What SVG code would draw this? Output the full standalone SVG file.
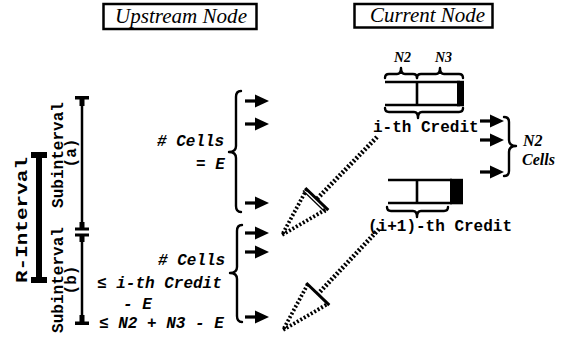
<svg xmlns="http://www.w3.org/2000/svg" xmlns:xlink="http://www.w3.org/1999/xlink" width="563" height="339" viewBox="0 0 563 339">
  <style>
    .title { font-family: "Liberation Serif", "Times New Roman", serif; font-style: italic; font-size: 22px; fill: #000; }
    .frame { fill: none; stroke: #000; stroke-width: 2.5; }
    .mono { font-family: "Liberation Mono", "Courier New", monospace; font-weight: bold; font-size: 16px; fill: #000; }
    .monoi { font-family: "Liberation Mono", "Courier New", monospace; font-weight: bold; font-style: italic; font-size: 16px; fill: #000; }
    .lbl { font-family: "Liberation Serif", "Times New Roman", serif; font-weight: bold; font-style: italic; fill: #000; }
    .brace { fill: none; stroke: #000; stroke-width: 2.4; stroke-linecap: round; stroke-linejoin: round; }
    .bar { stroke: #000; stroke-width: 2.5; }
    .buf { stroke: #000; stroke-width: 2.6; fill: none; }
    .dots { fill: none; stroke: #000; stroke-width: 4.6; stroke-dasharray: 2 2; }
    .dotside { fill: none; stroke: #000; stroke-width: 3.8; stroke-dasharray: 2 2; }
  </style>
  <defs>
    <!-- solid cell arrow, drawn from its tail at (0,0) -->
    <symbol id="cell" overflow="visible">
      <rect x="0" y="-1.6" width="12" height="3.2" fill="#000"/>
      <polygon points="10,-6.5 24,0 10,6.5" fill="#000"/>
    </symbol>
  </defs>

  <rect width="563" height="339" fill="#fff"/>

  <!-- column headings -->
  <g id="upstream-node">
    <rect class="frame" x="103.5" y="4" width="153" height="25"/>
    <text class="title" x="115" y="23" textLength="132" lengthAdjust="spacingAndGlyphs">Upstream Node</text>
  </g>
  <g id="current-node">
    <rect class="frame" x="354.5" y="4" width="138" height="23.5"/>
    <text class="title" x="370" y="22" textLength="115" lengthAdjust="spacingAndGlyphs">Current Node</text>
  </g>

  <!-- R-interval bar -->
  <g id="r-interval">
    <rect x="36" y="153" width="6" height="129" fill="#000"/>
    <rect x="31" y="152" width="16" height="6" fill="#000"/>
    <rect x="31" y="277" width="16" height="6" fill="#000"/>
    <text class="mono" font-size="21" transform="translate(27,220) rotate(-90)" text-anchor="middle" textLength="126" lengthAdjust="spacingAndGlyphs">R-Interval</text>
  </g>

  <!-- subinterval bars -->
  <g id="subinterval-a">
    <line class="bar" x1="82" y1="98" x2="82" y2="229"/>
    <rect x="75" y="96" width="14" height="3.5" fill="#000"/>
    <rect x="79.5" y="98" width="5" height="8" fill="#000"/>
    <rect x="75" y="227.5" width="14" height="3" fill="#000"/>
    <rect x="79.5" y="222" width="5" height="6" fill="#000"/>
    <text class="mono" transform="translate(63,155) rotate(-90)" text-anchor="middle" textLength="106" lengthAdjust="spacingAndGlyphs">Subinterval</text>
    <text class="mono" transform="translate(76,153) rotate(-90)" text-anchor="middle">(a)</text>
  </g>
  <g id="subinterval-b">
    <line class="bar" x1="82" y1="234" x2="82" y2="323"/>
    <rect x="75" y="233.5" width="14" height="3" fill="#000"/>
    <rect x="79.5" y="236" width="5" height="6" fill="#000"/>
    <rect x="75" y="321.5" width="14" height="3.5" fill="#000"/>
    <rect x="79.5" y="315" width="5" height="7" fill="#000"/>
    <text class="mono" transform="translate(63,280) rotate(-90)" text-anchor="middle" textLength="106" lengthAdjust="spacingAndGlyphs">Subinterval</text>
    <text class="mono" transform="translate(76,280) rotate(-90)" text-anchor="middle">(b)</text>
  </g>

  <!-- cell counts sent upstream -->
  <g id="cells-a">
    <text class="monoi" x="157" y="146"># Cells</text>
    <text class="monoi" x="196" y="169">= E</text>
    <path class="brace" d="M241 91 Q236 91 236 97 L236 146 Q236 152 229 152 Q236 152 236 158 L236 206 Q236 212 241 212"/>
  </g>
  <g id="cells-b">
    <text class="monoi" x="158" y="265"># Cells</text>
    <text class="monoi" x="97" y="288">≤ i-th Credit</text>
    <text class="monoi" x="123" y="309">- E</text>
    <text class="monoi" x="99" y="328">≤ N2 + N3 - E</text>
    <path class="brace" d="M242 225 Q237 225 237 231 L237 267 Q237 273 230 273 Q237 273 237 279 L237 316 Q237 322 242 322"/>
  </g>

  <!-- credit buffers -->
  <g id="credit-i">
    <text class="lbl" font-size="14" x="394" y="62">N2</text>
    <text class="lbl" font-size="14" x="435" y="62">N3</text>
    <path class="brace" d="M385 78 Q385 74 389 74 L397 74 Q401 74 401 68 Q401 74 405 74 L413 74 Q417 74 417 78"/>
    <path class="brace" d="M417 78 Q417 74 421 74 L436 74 Q440 74 440 68 Q440 74 444 74 L459 74 Q463 74 463 78"/>
    <path class="buf" d="M385 82 L460 82 M385 105 L460 105 M417 82 L417 105"/>
    <rect x="457" y="80.8" width="7" height="25.5" fill="#000"/>
    <path class="brace" d="M385 108 Q385 112 389 112 L414 112 Q418 112 418 118 Q418 112 422 112 L459 112 Q463 112 463 108"/>
    <text class="mono" x="373" y="132">i-th Credit</text>
  </g>
  <g id="credit-i1">
    <path class="buf" d="M388 180 L452 180 M388 203 L452 203 M417 180 L417 203"/>
    <rect x="450" y="178.8" width="13" height="25.5" fill="#000"/>
    <path class="brace" d="M387 207 Q387 211 391 211 L413 211 Q417 211 417 217 Q417 211 421 211 L444 211 Q448 211 448 207"/>
    <text class="mono" x="368" y="231">(i+1)-th Credit</text>
  </g>
  <g id="n2-cells">
    <path class="brace" d="M504 117 Q509 117 509 122 L509 140 Q509 146 516 146 Q509 146 509 152 L509 171 Q509 176 504 176"/>
    <text class="lbl" font-size="16" x="523" y="146">N2</text>
    <text class="lbl" font-size="16" x="522" y="165">Cells</text>
  </g>

  <!-- connectors -->
  <g id="connectors">
    <use xlink:href="#cell" x="245" y="101"/>
    <use xlink:href="#cell" x="245" y="124"/>
    <use xlink:href="#cell" x="245" y="203"/>
    <use xlink:href="#cell" x="245" y="233"/>
    <use xlink:href="#cell" x="245" y="252"/>
    <use xlink:href="#cell" x="245" y="317"/>
    <use xlink:href="#cell" x="480" y="121"/>
    <use xlink:href="#cell" x="480" y="140"/>
    <use xlink:href="#cell" x="480" y="172"/>

    <!-- credit i returned upstream -->
    <line class="dots" x1="377" y1="137" x2="316.8" y2="199.1"/>
    <path class="dotside" d="M306.7 189.4 L282 235 L326.9 208.8"/>
    <line x1="305.3" y1="188" x2="328.3" y2="210.2" stroke="#000" stroke-width="3"/>
    <line x1="302.9" y1="190.5" x2="325.9" y2="212.7" stroke="#000" stroke-width="1.2"/>

    <!-- credit i+1 returned upstream -->
    <line class="dots" x1="379" y1="229" x2="317.8" y2="294.1"/>
    <path class="dotside" d="M307.7 284.4 L283 330 L327.9 303.8"/>
    <line x1="306.3" y1="283" x2="329.3" y2="305.2" stroke="#000" stroke-width="3"/>
  </g>
</svg>
